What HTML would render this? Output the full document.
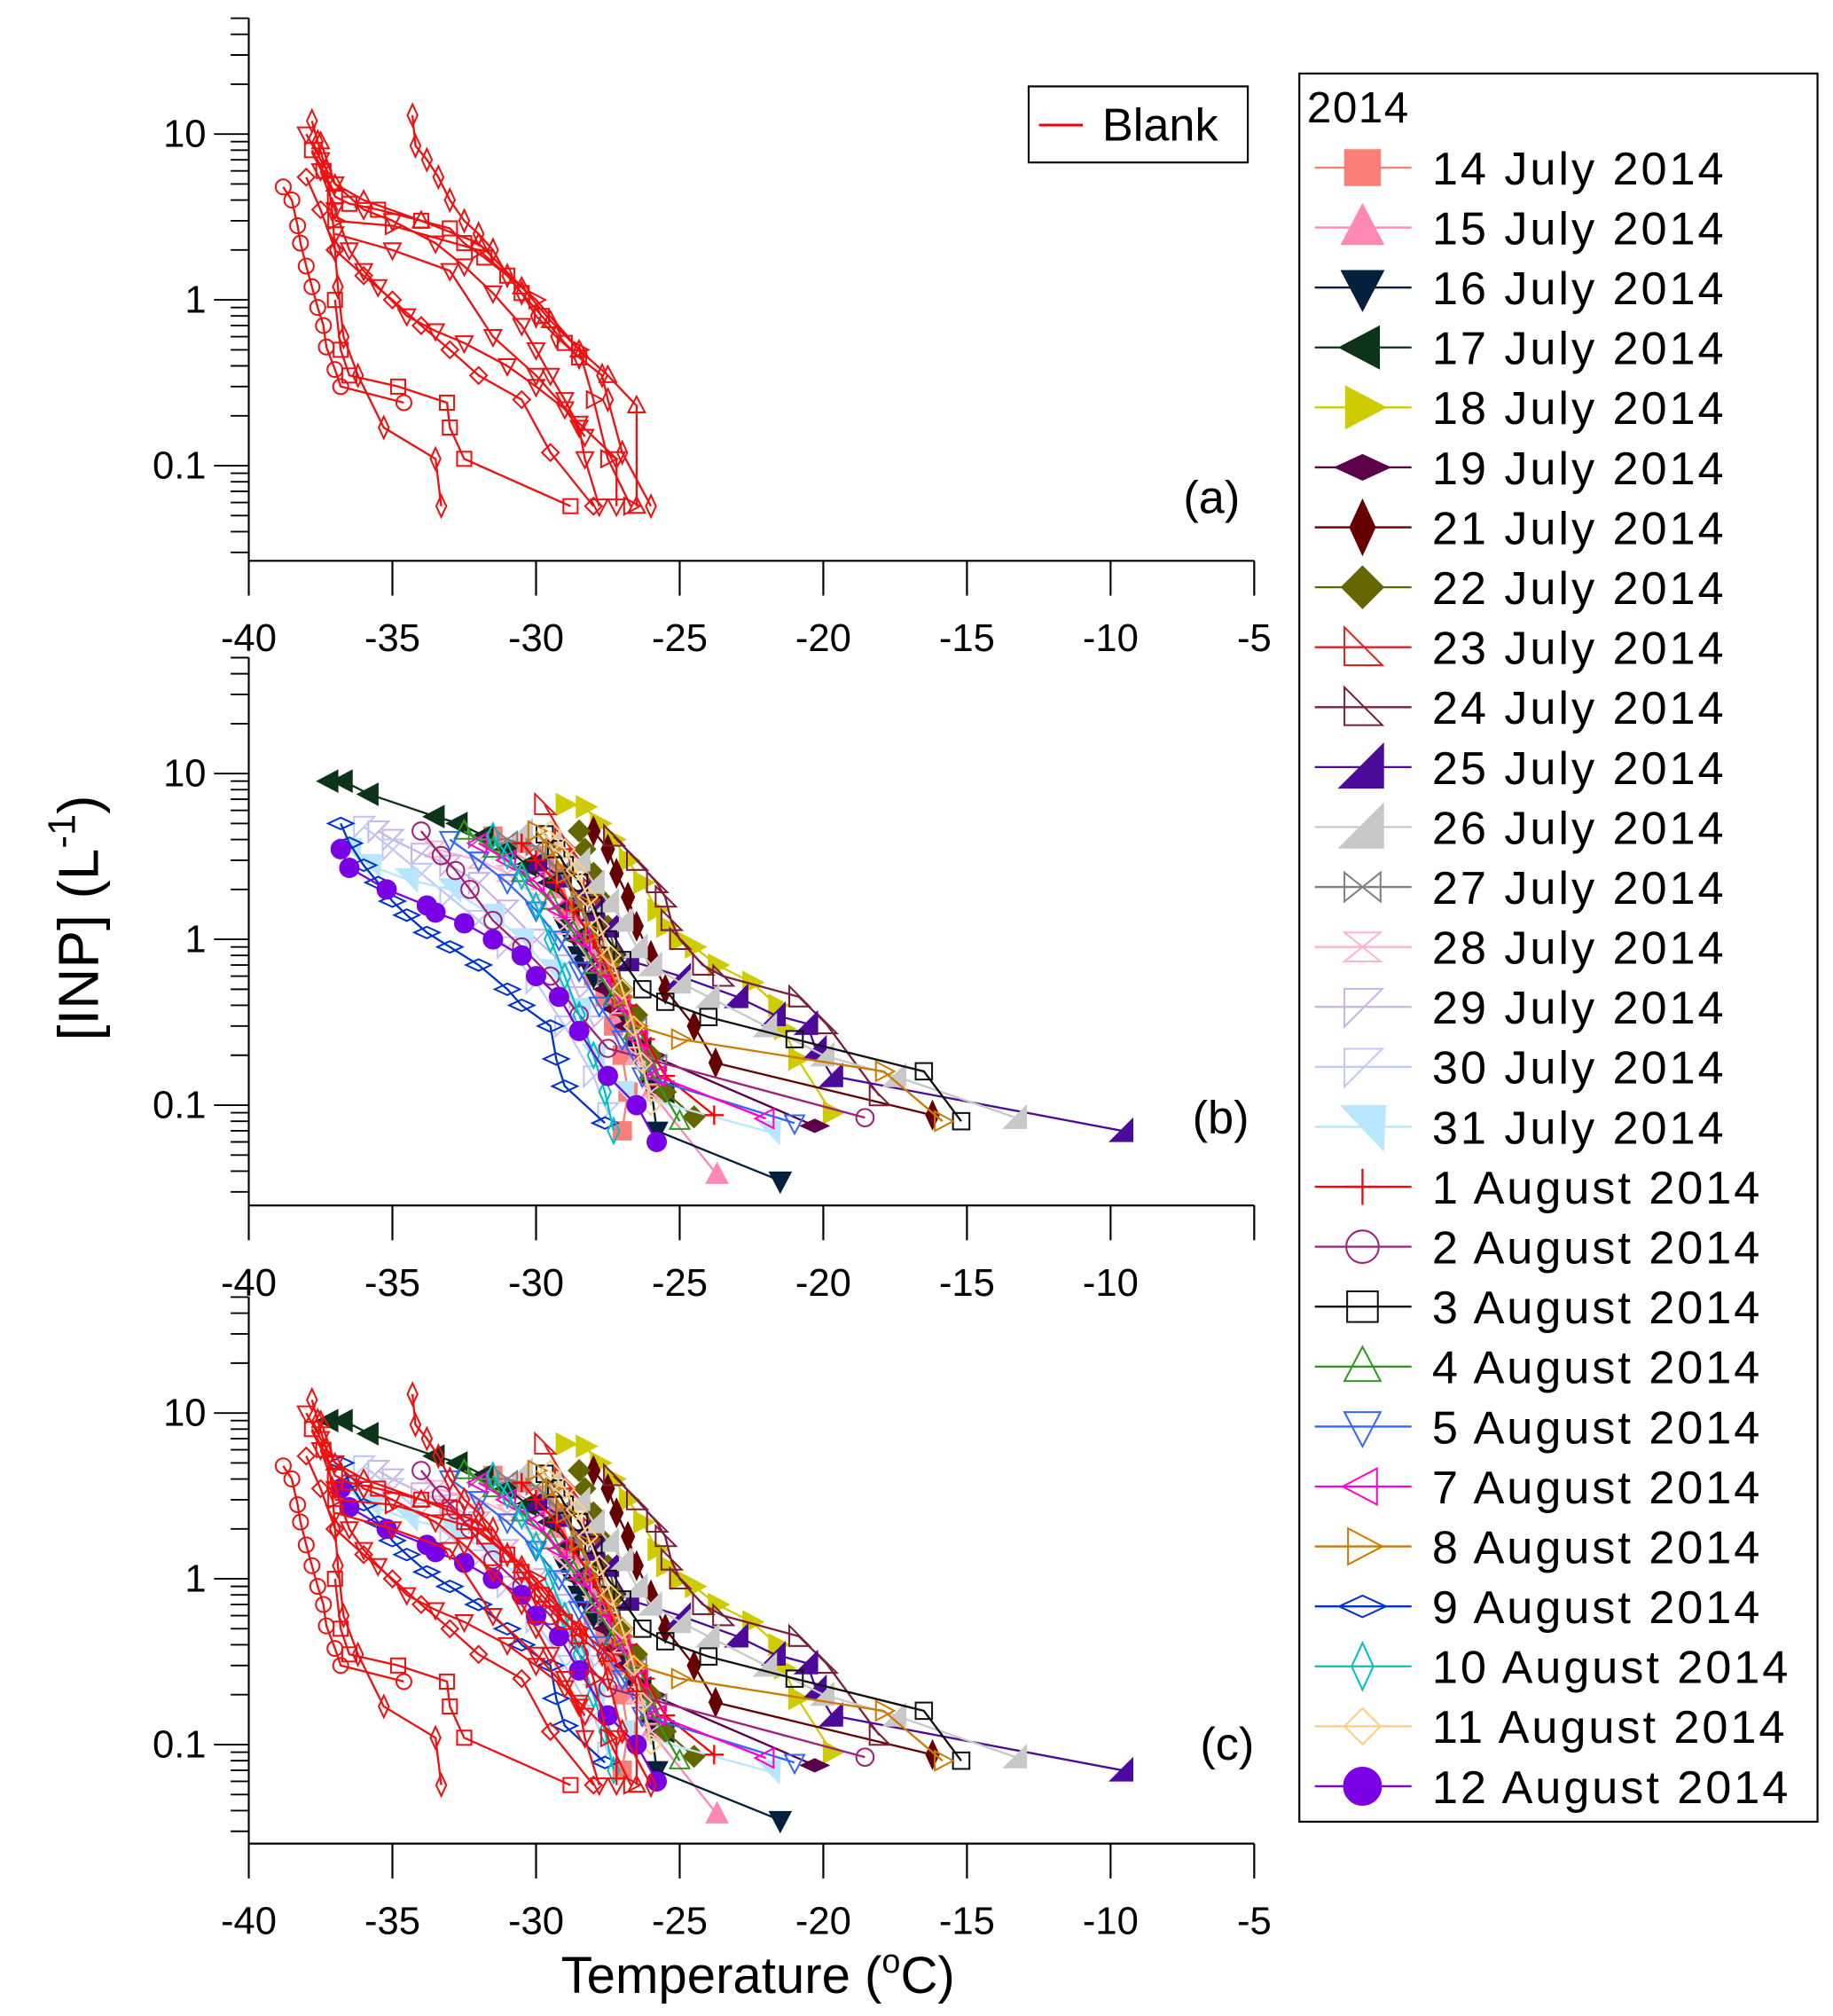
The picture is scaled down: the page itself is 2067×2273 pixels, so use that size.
<!DOCTYPE html>
<html><head><meta charset="utf-8"><style>
html,body{margin:0;padding:0;background:#fff;}
svg{display:block;font-family:"Liberation Sans",sans-serif;}
</style></head><body>
<svg id="fig" width="2067" height="2273" viewBox="0 0 1422 1563.7" xmlns="http://www.w3.org/2000/svg">
<rect x="0" y="0" width="1422" height="1563.7" fill="#fff"/>
<g id="axes"></g>
<g id="plots"></g>
<text transform="translate(76,712) rotate(-90)" text-anchor="middle" font-size="44">[INP] (L<tspan font-size="30" dy="-18">-1</tspan><tspan dy="18">)</tspan></text>
<text x="588" y="1546" text-anchor="middle" font-size="40">Temperature (<tspan font-size="26" dy="-16">o</tspan><tspan dy="16">C)</tspan></text>
<text x="940" y="398" text-anchor="middle" font-size="36">(a)</text>
<text x="947" y="879" text-anchor="middle" font-size="36">(b)</text>
<text x="952" y="1365" text-anchor="middle" font-size="36">(c)</text>
<g>
<rect x="798" y="67" width="170" height="59" fill="#fff" stroke="#000" stroke-width="1.5"/>
<line x1="806" y1="97" x2="840" y2="97" stroke="#e00" stroke-width="2"/>
<text x="855" y="109" font-size="36">Blank</text>
</g>
<g id="legend">
<rect x="1008" y="57" width="402" height="1356" fill="#fff" stroke="#000" stroke-width="1.5"/>
<text x="1014" y="95" font-size="34" letter-spacing="1">2014</text>
</g>
</svg>
<script>
var NS="http://www.w3.org/2000/svg";
var dayLabels=["14 July 2014","15 July 2014","16 July 2014","17 July 2014","18 July 2014","19 July 2014","21 July 2014","22 July 2014","23 July 2014","24 July 2014","25 July 2014","26 July 2014","27 July 2014","28 July 2014","29 July 2014","30 July 2014","31 July 2014","1 August 2014","2 August 2014","3 August 2014","4 August 2014","5 August 2014","7 August 2014","8 August 2014","9 August 2014","10 August 2014","11 August 2014","12 August 2014"];
var dayColors=["#fa7f78","#ff88b4","#05203a","#0d3318","#cccc00","#5c0049","#660000","#666600","#dd2222","#7a1f3d","#4b0a9a","#c8c8c8","#808080","#ffb4cc","#c8b4e6","#c0c8f8","#b8e6ff","#ff0000","#a0207a","#111111","#2e9a1e","#3366ff","#ff00cc","#cc7a00","#0033cc","#00c0c8","#ffcc80","#7a00e6"];
var dayMarkers=["sq","tu","td","tl","tr","dw","dt","dd","rb","rb","ra","ra","bow","hour","rc","rc","rd","plus","c","sq","tu","td","tl","tr","dw","dt","dd","c"];
var dayFilled=[1,1,1,1,1,1,1,1,0,0,1,1,0,0,0,0,1,0,0,0,0,0,0,0,0,0,0,1];
var dayT=[
[-31.5,-30.5,-29.7,-29.2,-28.8,-28.3,-28.0,-27.6,-27.3,-27.0,-26.8,-27.0],
[-31,-30,-29.3,-28.7,-28.1,-27.5,-27.0,-26.5,-26.0,-23.7],
[-29,-28.5,-28.0,-27.5,-26.9,-26.5,-26.0,-25.8,-21.5],
[-37.2,-36.7,-35.8,-33.5,-32.7,-31.8,-31.0,-30.3,-29.5,-28.8,-28.2,-27.7,-27.3,-26.8,-26.3,-25.5],
[-29,-28.3,-27.8,-27.3,-26.8,-26.3,-25.8,-25.5,-25.0,-24.5,-23.7,-22.5,-21.6,-21.4,-20.9,-19.7],
[-28.5,-28.0,-27.5,-27.2,-26.8,-26.0,-20.3],
[-28,-27.5,-27.2,-26.8,-26.5,-26.0,-25.5,-24.5,-23.75,-16.2],
[-28.5,-28.3,-28.0,-27.8,-27.5,-27.2,-27.0,-26.5,-26.0,-25.5,-24.5],
[-29.7,-29.0,-28.5,-28.0,-27.8,-27.5,-27.0,-26.5,-26.0],
[-27.3,-26.5,-25.8,-25.5,-25.3,-25.0,-24.2,-23.5,-20.85,-19.9,-18.05],
[-30,-29.2,-28.5,-28.0,-27.5,-26.8,-25.0,-23.0,-21.7,-20.57,-20.27,-19.7,-9.6],
[-30.5,-29.5,-28.5,-28.0,-27.5,-27.0,-26.5,-26.0,-25.0,-24.0,-22.0,-20.0,-17.5,-13.3],
[-32,-31,-30,-29.2,-28.5,-28.0,-27.5,-26.5,-25.8],
[-33.5,-32,-31,-30,-29,-28,-27,-26.5,-26],
[-35.5,-35,-34,-33,-32,-31,-30,-29,-28.5,-28],
[-36,-35,-34,-33,-32,-31,-30,-29,-28,-27.5],
[-36.5,-35.8,-34.5,-33,-31.5,-30.5,-29.5,-28.5,-28,-27,-21.9],
[-30.5,-30,-29.3,-28.7,-28,-27.4,-26.8,-26.2,-25.5,-23.8],
[-34,-33.3,-32.8,-32.3,-31.5,-30.5,-29.5,-28.5,-27.5,-18.55],
[-29.7,-29.3,-29.0,-28.5,-28.0,-27.5,-27.0,-26.3,-25.5,-24.0,-21.0,-16.5,-15.2],
[-32.5,-31.5,-30.5,-29.5,-28.7,-28.0,-27.3,-26.6,-26.0,-25.0],
[-33,-32,-31,-30,-29.2,-28.5,-27.8,-27.0,-26.3,-21.0],
[-32,-31,-30,-29.2,-28.4,-27.7,-27.0,-26.4,-25.8,-22.0],
[-30,-29.5,-29,-28.5,-28,-27.5,-27,-26.5,-25,-17.9,-15.85],
[-36.8,-36.5,-36,-35.5,-35,-34.5,-33.8,-33,-32,-31,-30.5,-29.5,-29.3,-29,-27.6],
[-31.5,-31,-30.5,-30,-29.5,-29,-28.5,-28,-27.6,-27.3],
[-29.5,-29,-28.6,-28.2,-27.8,-27.4,-27,-26.6,-26.3,-26],
[-36.8,-36.5,-35.2,-33.8,-33.5,-32.5,-31.5,-30.5,-30,-29.2,-28.5,-27.5,-26.5,-25.8]];
var dayC=[
[4.2,3.8,3.2,2.5,1.5,0.9,0.6,0.45,0.3,0.2,0.12,0.07],
[3.5,2.8,2.0,1.4,0.9,0.6,0.35,0.2,0.12,0.038],
[1.2,0.8,0.6,0.5,0.35,0.22,0.13,0.07,0.035],
[9,9,7.5,5.5,5,4.2,3.5,2.8,2.2,1.6,1.1,0.75,0.5,0.35,0.22,0.12],
[6.5,6.3,5,4,3,2.2,1.5,1.2,1.0,0.9,0.7,0.55,0.4,0.29,0.19,0.09],
[1.0,0.7,0.5,0.38,0.3,0.2,0.075],
[4.5,3.5,2.5,1.8,1.2,0.8,0.5,0.3,0.18,0.087],
[4.5,3.5,2.5,1.8,1.2,0.8,0.5,0.35,0.2,0.12,0.085],
[6.5,4,3,2,1.2,0.7,0.4,0.25,0.15],
[4.2,3,2.2,1.8,1.3,1.0,0.7,0.6,0.45,0.31,0.114],
[3,2.4,1.9,1.5,1.2,0.75,0.6,0.45,0.35,0.31,0.22,0.15,0.07],
[4.5,3.8,3,2.2,1.7,1.3,0.9,0.7,0.55,0.45,0.3,0.2,0.15,0.084],
[4,4,3.6,2.6,1.6,1.0,0.6,0.3,0.18],
[3.5,3,2.5,1.8,1.2,0.7,0.4,0.2,0.12],
[4.5,4,3.3,2.8,2.2,1.5,1.0,0.7,0.45,0.3],
[4.8,3.5,2.5,1.8,1.3,0.9,0.55,0.3,0.15,0.09],
[3.5,2.8,2.3,2.0,1.4,1.0,0.65,0.38,0.2,0.12,0.069],
[3.8,3.0,2.2,1.5,1.0,0.6,0.4,0.25,0.15,0.087],
[4.5,3.2,2.6,2.0,1.3,0.9,0.6,0.35,0.22,0.084],
[4.3,3.5,2.8,2.2,1.6,1.0,0.75,0.5,0.42,0.34,0.25,0.16,0.08],
[4.5,3.5,2.5,1.7,1.1,0.7,0.45,0.28,0.16,0.08],
[4.0,3.0,2.2,1.5,1.0,0.65,0.4,0.25,0.15,0.078],
[3.8,3.0,2.2,1.5,1.0,0.65,0.4,0.25,0.15,0.083],
[4.5,3.5,2.5,1.7,1.1,0.7,0.45,0.3,0.25,0.16,0.08],
[5,3.8,2.8,2.2,1.7,1.4,1.1,0.9,0.7,0.5,0.4,0.3,0.19,0.13,0.078],
[4.2,3.2,2.4,1.6,1.0,0.6,0.35,0.2,0.12,0.07],
[4.5,3.5,2.6,1.8,1.2,0.8,0.5,0.3,0.18,0.1],
[3.5,2.7,2.0,1.6,1.45,1.25,1.0,0.8,0.6,0.45,0.28,0.15,0.1,0.06]];
var blankMarkers=["c","sq","dt","dt","td","tu","dd","td","tr","td","sq"];
var blankT=[
[-38.8,-38.5,-38.3,-38.2,-38.0,-37.8,-37.6,-37.4,-37.3,-37.0,-36.8,-34.6],
[-37.0,-36.8,-36.5,-34.8,-33.1,-33.0,-32.5,-28.8],
[-34.3,-34.2,-33.8,-33.4,-33.0,-32.5,-32.0,-31.5,-31.0,-30.5,-30.0,-29.3,-28.5,-27.7,-27.5,-27.0,-26.0],
[-37.8,-37.6,-37.3,-37.1,-37.0,-36.9,-36.7,-36.2,-35.3,-33.5,-33.3],
[-38.0,-37.5,-37.0,-36.0,-35.0,-33.5,-32.5,-31.5,-30.5,-30.0,-29.5,-29.0,-28.5,-28.3,-27.8],
[-37.5,-37.0,-36.0,-34.0,-32.0,-30.5,-29.5,-28.5,-27.5,-26.5,-26.5],
[-38.0,-37.5,-37.0,-36.0,-35.0,-34.0,-33.0,-32.0,-30.5,-29.5,-28.0],
[-37.0,-35.0,-33.0,-31.5,-30.0,-28.5,-27.2,-27.2],
[-37.0,-35.0,-32.0,-30.0,-28.5,-28.0,-27.5,-26.7],
[-37.5,-37.0,-36.5,-36.0,-35.5,-34.5,-33.5,-32.5,-31.0,-30.0,-29.0,-28.3],
[-37.8,-37.4,-37.0,-36.5,-35.5,-34.0,-33.0,-32.5,-31.8,-31.0,-30.5,-29.8,-29.0,-28.5]];
var blankC=[
[4.8,4,2.8,2.2,1.6,1.2,0.9,0.7,0.52,0.38,0.3,0.24],
[1.0,0.5,0.35,0.3,0.24,0.17,0.11,0.057],
[13,8.5,7,5.5,4,3,2.5,2,1.4,1.1,0.8,0.6,0.45,0.35,0.25,0.12,0.057],
[12,9,6,3.5,2,1.2,0.6,0.35,0.17,0.11,0.057],
[10,7,5,3.5,3,2.2,1.6,1.1,0.7,0.5,0.35,0.25,0.17,0.11,0.057],
[9,5,4,3,2.2,1.2,0.75,0.5,0.35,0.23,0.057],
[5.5,3.5,2,1.4,1,0.7,0.5,0.35,0.25,0.12,0.057],
[2.5,2,1.5,0.6,0.35,0.18,0.11,0.057],
[3,2.8,2,1,0.5,0.25,0.11,0.057],
[6,3.5,2,1.5,1.2,0.8,0.65,0.55,0.4,0.3,0.22,0.15],
[8,6,4.2,3.8,3.5,3.0,2.7,2.2,1.8,1.4,1.1,0.8,0.55,0.45]];
var xTicks=[-40,-35,-30,-25,-20,-15,-10,-5];
var panels=[{name:"a",top:14,y10:104,bottom:435,lblY:505,ticks:xTicks},{name:"b",top:510,y10:600,bottom:935,lblY:1005,ticks:[-40,-35,-30,-25,-20,-15,-10]},{name:"c",top:1006,y10:1096,bottom:1430,lblY:1500,ticks:xTicks}];
var yLabels=["10","1","0.1"],yVals=[10,1,0.1];
var DEC=128.6,XL=193,XR=973;
function xS(t){return XL+(t+40)*(XR-XL)/35;}
function yS(p,c){return p.y10+(1-Math.log10(c))*DEC;}
function el(tag,at,parent){var e=document.createElementNS(NS,tag);for(var k in at)e.setAttribute(k,at[k]);parent.appendChild(e);return e;}
function marker(type,x,y,r,col,filled,parent){
  var f=filled?col:"none",sw=1.4,g;
  var P=function(pts){return el("polygon",{points:pts.map(function(p){return (x+p[0]*r)+","+(y+p[1]*r);}).join(" "),fill:f,stroke:col,"stroke-width":sw},parent);};
  switch(type){
    case "sq":g=el("rect",{x:x-r*0.85,y:y-r*0.85,width:r*1.7,height:r*1.7,fill:f,stroke:col,"stroke-width":sw},parent);break;
    case "tu":g=P([[0,-1.1],[1,0.8],[-1,0.8]]);break;
    case "td":g=P([[0,1.1],[1,-0.8],[-1,-0.8]]);break;
    case "tl":g=P([[-1.1,0],[0.8,-1],[0.8,1]]);break;
    case "tr":g=P([[1.1,0],[-0.8,-1],[-0.8,1]]);break;
    case "dw":g=P([[-1.3,0],[0,-0.6],[1.3,0],[0,0.6]]);break;
    case "dt":g=P([[-0.6,0],[0,-1.3],[0.6,0],[0,1.3]]);break;
    case "dd":g=P([[-1,0],[0,-1],[1,0],[0,1]]);break;
    case "ra":g=P([[1,-1.1],[1,1],[-1.1,1]]);break;
    case "rb":g=P([[-1,-1.1],[-1,1],[1.1,1]]);break;
    case "rc":g=P([[-1,-1],[1.1,-1],[-1,1.1]]);break;
    case "rd":g=P([[-1,-1],[1.1,-1],[1,1.1]]);break;
    case "bow":g=P([[-1,-0.8],[1,0.8],[1,-0.8],[-1,0.8]]);break;
    case "hour":g=P([[-1,-0.8],[1,-0.8],[-1,0.8],[1,0.8]]);break;
    case "c":g=el("circle",{cx:x,cy:y,r:r*0.9,fill:f,stroke:col,"stroke-width":sw},parent);break;
    case "plus":g=el("path",{d:"M"+(x-r)+" "+y+"H"+(x+r)+"M"+x+" "+(y-r)+"V"+(y+r),stroke:col,"stroke-width":1.6,fill:"none"},parent);break;
  }
  return g;
}
var axes=document.getElementById("axes"),plots=document.getElementById("plots");
panels.forEach(function(p){
  var ga=el("g",{},axes);
  
  
  el("line",{x1:XL,y1:p.top,x2:XL,y2:p.bottom,stroke:"#000","stroke-width":1.5},ga);
  el("line",{x1:XL,y1:p.bottom,x2:XR,y2:p.bottom,stroke:"#000","stroke-width":1.5},ga);
  for(var e=-2;e<=1;e++){for(var m=1;m<=9;m++){var v=m*Math.pow(10,e);var yy=yS(p,v);if(yy<p.top-0.5||yy>p.bottom)continue;
    el("line",{x1:XL-(m==1?27:14),y1:yy,x2:XL,y2:yy,stroke:"#000","stroke-width":1.3},ga);}}
  yVals.forEach(function(v,i){var t=el("text",{x:XL-33,y:yS(p,v)+10,"text-anchor":"end","font-size":30},ga);t.textContent=yLabels[i];
    
    });
  xTicks.forEach(function(v){el("line",{x1:xS(v),y1:p.bottom,x2:xS(v),y2:p.bottom+27,stroke:"#000","stroke-width":1.5},ga);});
  p.ticks.forEach(function(v){var t=el("text",{x:xS(v),y:p.lblY,"text-anchor":"middle","font-size":30},ga);t.textContent=String(v);
    
    });
});
function drawSeries(p,T,C,col,mk,filled,r,parent,nm){
  var g=el("g",{},parent);
  
  
  var d=T.map(function(t,i){return (i?"L":"M")+xS(t).toFixed(1)+" "+yS(p,C[i]).toFixed(1);}).join("");
  el("path",{d:d,fill:"none",stroke:col,"stroke-width":1.6},g);
  T.forEach(function(t,i){marker(mk,xS(t),yS(p,C[i]),r,col,filled,g);});
}
function drawDays(p){dayT.forEach(function(T,i){drawSeries(p,T,dayC[i],dayColors[i],dayMarkers[i],dayFilled[i],dayFilled[i]?8:7.5,plots,"series-"+p.name+"-"+i);});}
function drawBlanks(p){blankT.forEach(function(T,i){drawSeries(p,T,blankC[i],"#ee1111",blankMarkers[i],0,6.5,plots,"blank-"+p.name+"-"+i);});}
drawBlanks(panels[0]);
drawDays(panels[1]);
drawDays(panels[2]);
drawBlanks(panels[2]);
var leg=document.getElementById("legend");
dayLabels.forEach(function(lb,i){
  var y=130+i*46.5;
  var g=el("g",{},leg);
  
  
  el("line",{x1:1020,y1:y,x2:1095,y2:y,stroke:dayColors[i],"stroke-width":1.6},g);
  marker(dayMarkers[i],1057,y,dayFilled[i]?16:14,dayColors[i],dayFilled[i],g);
  var t=el("text",{x:1111,y:y+13,"font-size":36,"letter-spacing":"2"},g);t.textContent=lb;
});
</script>
</body></html>
